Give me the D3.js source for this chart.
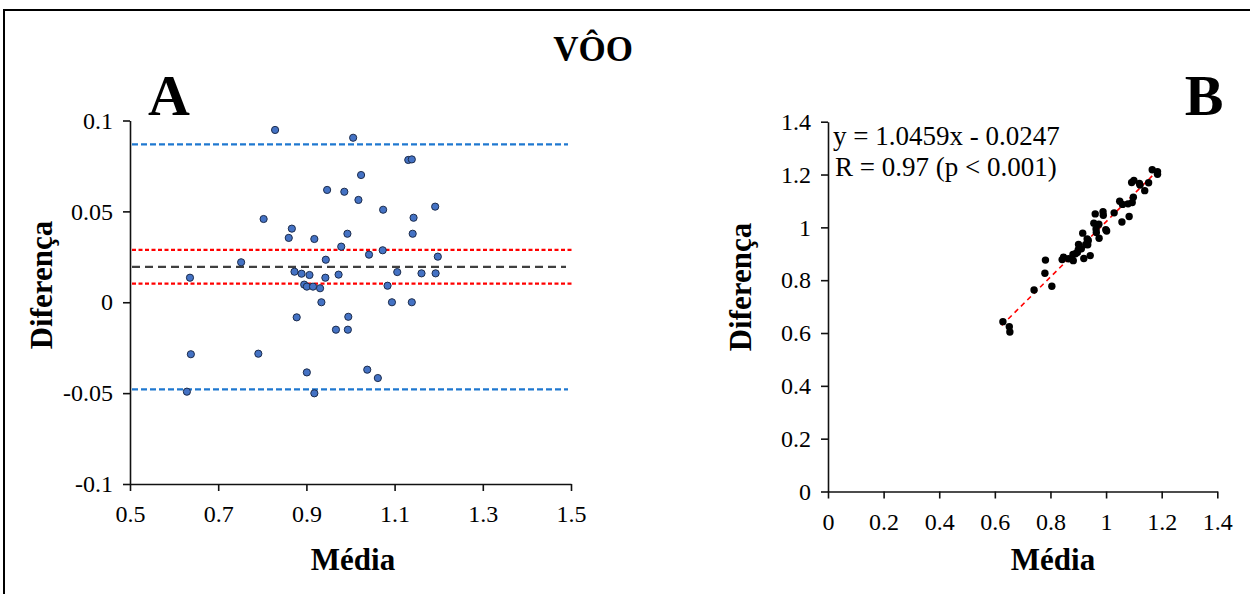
<!DOCTYPE html>
<head>
    <meta charset="utf-8">
    <script src="https://d3js.org/d3.v7.min.js"></script>
    <style>
      body { margin: 0; background: #fff; }
      text {
        font-family: "Liberation Serif", "Times New Roman", serif;
        fill: #000;
      }
      .ticklab { font-size: 24px; }
      .axtitle { font-size: 31px; font-weight: bold; }
      .panel { font-size: 58px; font-weight: bold; }
      .title { font-size: 35px; font-weight: bold; }
      .eq { font-size: 27px; }
    </style>
</head>
<body>
    <script>
        // panel A: Bland-Altman (media, diferenca)
        var mediaA = [0.829,1.006,1.131,1.139,1.024,0.947,0.986,1.018,1.192,1.074,
                      1.143,0.803,0.867,0.993,1.141,0.860,0.918,0.979,1.073,1.042,
                      1.198,0.944,0.752,0.873,1.106,1.161,1.193,0.889,0.973,0.907,
                      0.943,0.636,0.895,1.084,0.901,0.915,0.931,0.934,1.094,1.139,
                      0.878,0.995,0.967,0.994,0.638,0.791,0.901,1.038,1.062,0.629,0.918]
        var difA = [0.0948,0.0905,0.0783,0.0786,0.0700,0.0618,0.0608,0.0563,0.0526,0.0509,
                    0.0465,0.0458,0.0405,0.0377,0.0377,0.0354,0.0348,0.0306,0.0286,0.0262,
                    0.0251,0.0234,0.0220,0.0168,0.0166,0.0159,0.0159,0.0157,0.0152,0.0150,
                    0.0135,0.0135,0.0097,0.0091,0.0086,0.0086,0.0077,0.0000,0.0000,0.0000,
                    -0.0083,-0.0080,-0.0151,-0.0151,-0.0286,-0.0283,-0.0386,-0.0371,-0.0417,-0.0492,-0.0501]
        var loaUpper = 0.0869, ciUpper = 0.0288, meanDif = 0.0195, ciLower = 0.0102, loaLower = -0.0479
        var ticksAX = [0.5,0.7,0.9,1.1,1.3,1.5]
        var ticksAY = [-0.1,-0.05,0,0.05,0.1]

        // panel B: correlation
        var xB = [0.782,0.961,1.092,1.100,0.989,0.916,0.956,0.990,1.166,1.049,
                  1.120,0.780,0.847,0.974,1.122,0.842,0.901,0.964,1.059,1.029,
                  1.185,0.932,0.741,0.865,1.098,1.153,1.185,0.881,0.965,0.900,
                  0.936,0.629,0.890,1.079,0.897,0.911,0.927,0.934,1.094,1.139,
                  0.882,0.999,0.975,1.002,0.652,0.805,0.920,1.057,1.083,0.654,0.943]
        var yB = [0.876,1.051,1.170,1.178,1.059,0.978,1.016,1.046,1.218,1.099,
                  1.166,0.826,0.887,1.012,1.160,0.878,0.935,0.994,1.087,1.055,
                  1.211,0.956,0.763,0.881,1.114,1.169,1.201,0.897,0.981,0.915,
                  0.950,0.643,0.900,1.089,0.905,0.919,0.935,0.934,1.094,1.139,
                  0.874,0.991,0.959,0.986,0.624,0.777,0.882,1.020,1.041,0.604,0.893]
        var slope = 1.0459, intercept = -0.0247
        var fitRange = [0.625, 1.19]
        var ticksB = [0,0.2,0.4,0.6,0.8,1,1.2,1.4]

        var fmt = function(d){ return String(+d.toFixed(2)) }

        var svg = d3.select("body").append("svg")
          .attr("width", 1250).attr("height", 594)

        // frame
        svg.append("rect")
          .attr("x", 4).attr("y", 10).attr("width", 1260).attr("height", 600)
          .attr("fill", "none").attr("stroke", "#000").attr("stroke-width", 2)

        svg.append("text").attr("class", "title")
          .attr("x", 593).attr("y", 61).attr("text-anchor", "middle").text("VÔO")
        svg.append("text").attr("class", "panel").attr("x", 169).attr("y", 115)
          .attr("text-anchor", "middle").text("A")
        svg.append("text").attr("class", "panel").attr("x", 1204).attr("y", 115)
          .attr("text-anchor", "middle").text("B")

        function styleAxis(g){
          g.selectAll("path.domain").attr("stroke", "#111").attr("stroke-width", 1.6)
          g.selectAll(".tick line").attr("stroke", "#111").attr("stroke-width", 1.6)
          g.selectAll(".tick text").attr("class", "ticklab").attr("font-size", null)
            .attr("font-family", null).attr("fill", "#000")
        }

        // ---------- PANEL A
        var xA = d3.scaleLinear().domain([0.5, 1.5]).range([130, 571])
        var yA = d3.scaleLinear().domain([-0.1, 0.1]).range([484, 120.5])

        var gA = svg.append("g")
        var axAY = gA.append("g").attr("transform", "translate(130,0)")
          .call(d3.axisLeft(yA).tickValues(ticksAY).tickFormat(fmt).tickSize(7).tickSizeOuter(0).tickPadding(10))
        styleAxis(axAY)
        var axAX = gA.append("g").attr("transform", "translate(0,484)")
          .call(d3.axisBottom(xA).tickValues(ticksAX).tickFormat(fmt).tickSize(7).tickSizeOuter(0).tickPadding(14))
        styleAxis(axAX)

        var limLines = [
          {v: loaUpper, c: "#1f78d0", dash: "6,3", x2: 568},
          {v: ciUpper, c: "#ff0000", dash: "4,2.5", x2: 572},
          {v: meanDif, c: "#404040", dash: "8,5", x2: 566},
          {v: ciLower, c: "#ff0000", dash: "4,2.5", x2: 572},
          {v: loaLower, c: "#1f78d0", dash: "6,3", x2: 568}
        ]
        gA.selectAll(".lim").data(limLines).enter().append("line")
          .attr("x1", 132).attr("x2", function(d){ return d.x2 })
          .attr("y1", function(d){ return yA(d.v) }).attr("y2", function(d){ return yA(d.v) })
          .attr("stroke", function(d){ return d.c })
          .attr("stroke-width", 2.2)
          .attr("stroke-dasharray", function(d){ return d.dash })

        gA.selectAll(".ptA").data(mediaA).enter().append("circle")
          .attr("cx", function(d){ return xA(d) })
          .attr("cy", function(d, i){ return yA(difA[i]) })
          .attr("r", 3.6)
          .attr("fill", "#4472c4").attr("stroke", "#1c2c4c").attr("stroke-width", 1)

        svg.append("text").attr("class", "axtitle")
          .attr("x", 353).attr("y", 570).attr("text-anchor", "middle").text("Média")
        svg.append("text").attr("class", "axtitle")
          .attr("transform", "translate(52,285) rotate(-90)")
          .attr("text-anchor", "middle").text("Diferença")

        // ---------- PANEL B
        var xBs = d3.scaleLinear().domain([0, 1.4]).range([828, 1217.3])
        var yBs = d3.scaleLinear().domain([0, 1.4]).range([491.5, 121.7])

        var gB = svg.append("g")
        var axBY = gB.append("g").attr("transform", "translate(828,0)")
          .call(d3.axisLeft(yBs).tickValues(ticksB).tickFormat(fmt).tickSize(7).tickSizeOuter(0).tickPadding(10))
        styleAxis(axBY)
        var axBX = gB.append("g").attr("transform", "translate(0,491.5)")
          .call(d3.axisBottom(xBs).tickValues(ticksB).tickFormat(fmt).tickSize(7).tickSizeOuter(0).tickPadding(14))
        styleAxis(axBX)

        gB.append("line")
          .attr("x1", xBs(fitRange[0])).attr("y1", yBs(slope * fitRange[0] + intercept))
          .attr("x2", xBs(fitRange[1])).attr("y2", yBs(slope * fitRange[1] + intercept))
          .attr("stroke", "#ff0000").attr("stroke-width", 1.6).attr("stroke-dasharray", "5,4")

        gB.selectAll(".ptB").data(xB).enter().append("circle")
          .attr("cx", function(d){ return xBs(d) })
          .attr("cy", function(d, i){ return yBs(yB[i]) })
          .attr("r", 3.7)
          .attr("fill", "#000")

        svg.append("text").attr("class", "eq").attr("x", 833).attr("y", 145)
          .text("y = 1.0459x - 0.0247")
        svg.append("text").attr("class", "eq").attr("x", 835).attr("y", 176)
          .text("R = 0.97 (p < 0.001)")

        svg.append("text").attr("class", "axtitle")
          .attr("x", 1053).attr("y", 570).attr("text-anchor", "middle").text("Média")
        svg.append("text").attr("class", "axtitle")
          .attr("transform", "translate(751,287) rotate(-90)")
          .attr("text-anchor", "middle").text("Diferença")
    </script>
</body>
